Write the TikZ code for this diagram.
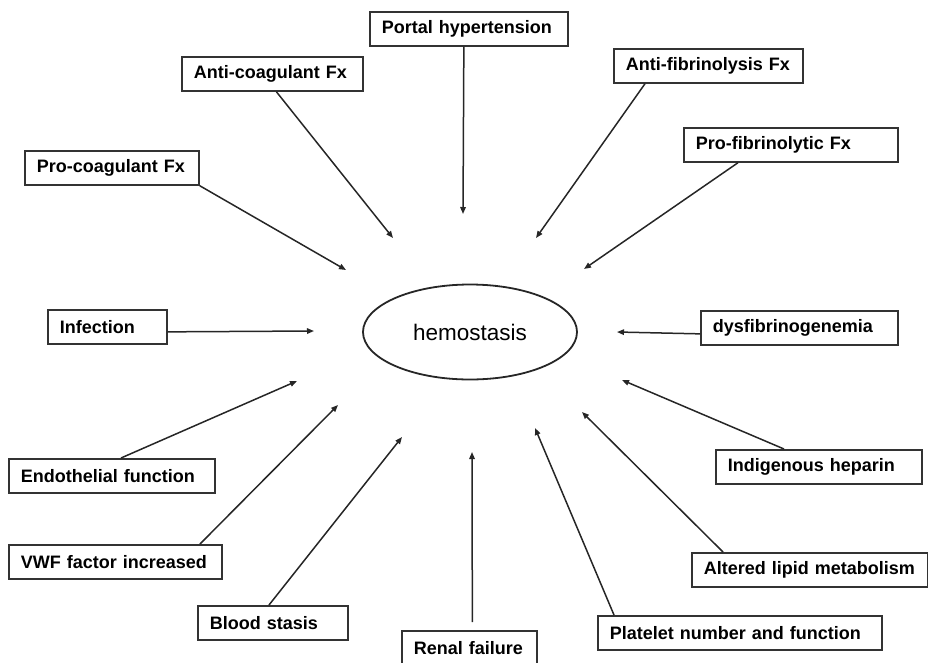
\documentclass[tikz,border=0pt]{standalone}
\usepackage{fontspec}
\setmainfont{Liberation Sans}
\usepackage{tikz}
\usetikzlibrary{
  shapes.geometric,
  arrows.meta,
  positioning
}
\usepackage{xcolor}
\definecolor{linegray}{HTML}{262626}
\definecolor{boxgray}{HTML}{333333}
\tikzset{
  factor/.style={
    rectangle, draw=boxgray, anchor=north west, line width=1.7pt,
    minimum height=34pt, inner xsep=12pt, inner ysep=0pt,
    text width=#1, align=left,
    font=\fontsize{18}{20}\selectfont\bfseries
  },
  arrow/.style={-{Triangle[length=7pt, width=5.5pt]}, draw=linegray, line width=1.5pt},
}

\begin{document}
\begin{tikzpicture}[
  x=1pt, y=-1pt,
  center/.style={ellipse, draw=linegray, line width=1.8pt, minimum width=214pt, minimum height=95pt, inner sep=0pt, font=\fontsize{22.5}{24}\selectfont},
]
\useasboundingbox (0,0) rectangle (928,662);

% Centre
\node[center] (hemo) at (470,332) {hemostasis};

% Upper factors
\node[factor=174pt] (portal) at (369,11) {Portal hypertension};
\node[factor=157pt] (anticoag) at (181,56) {Anti-coagulant Fx};
\node[factor=150pt] (procoag) at (24,150) {Pro-coagulant Fx};
\node[factor=165pt] (antifib) at (613,48) {Anti-fibrinolysis Fx};
\node[factor=190pt] (profib) at (683,127) {Pro-fibrinolytic Fx};

% Side factors
\node[factor=95pt] (infection) at (47,309) {Infection};
\node[factor=173pt] (dysfib) at (700,310) {dysfibrinogenemia};

% Lower factors
\node[factor=182pt] (endo) at (8,458) {Endothelial function};
\node[factor=189pt] (vwf) at (8,544) {VWF factor increased};
\node[factor=126pt] (blood) at (197,605) {Blood stasis};
\node[factor=111pt] (renal) at (401,630) {Renal failure};
\node[factor=260pt] (platelet) at (597,615) {Platelet number and function};
\node[factor=212pt] (lipid) at (691,552) {Altered lipid metabolism};
\node[factor=182pt] (heparin) at (715,449) {Indigenous heparin};

% Arrow tips around the centre
\coordinate (portalTip) at (463,214);
\coordinate (anticoagTip) at (393,238);
\coordinate (procoagTip) at (346,270);
\coordinate (antifibTip) at (536,238);
\coordinate (profibTip) at (584,269);
\coordinate (infectionTip) at (314,331);
\coordinate (dysfibTip) at (617,332);
\coordinate (endoTip) at (297,381);
\coordinate (vwfTip) at (338,405);
\coordinate (bloodTip) at (402,437);
\coordinate (renalTip) at (472,452);
\coordinate (plateletTip) at (535,428);
\coordinate (lipidTip) at (582,412);
\coordinate (heparinTip) at (622,380);

\draw[arrow] ([xshift=-5]portal.south) -- (portalTip);
\draw[arrow] ([xshift=4]anticoag.south) -- (anticoagTip);
\draw[arrow] (procoag.south east) -- (procoagTip);
\draw[arrow] ([xshift=32]antifib.south west) -- (antifibTip);
\draw[arrow] ([xshift=55]profib.south west) -- (profibTip);
\draw[arrow] ([yshift=-5]infection.east) -- (infectionTip);
\draw[arrow] ([yshift=-6]dysfib.west) -- (dysfibTip);
\draw[arrow] ([xshift=113]endo.north west) -- (endoTip);
\draw[arrow] ([xshift=192]vwf.north west) -- (vwfTip);
\draw[arrow] ([xshift=72]blood.north west) -- (bloodTip);
\draw[arrow] ([xshift=3, yshift=8]renal.north) -- (renalTip);
\draw[arrow] ([xshift=17]platelet.north west) -- (plateletTip);
\draw[arrow] ([xshift=32]lipid.north west) -- (lipidTip);
\draw[arrow] ([xshift=69]heparin.north west) -- (heparinTip);

\end{tikzpicture}
\end{document}
